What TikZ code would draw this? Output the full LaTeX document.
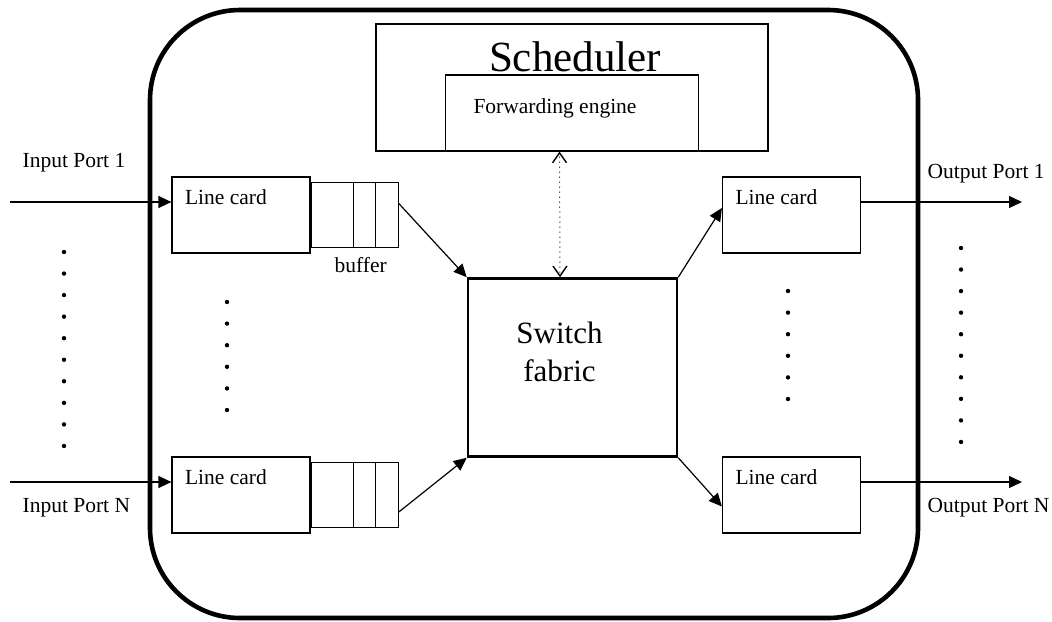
\documentclass[tikz,border=0pt]{standalone}
\usepackage{fontspec}
\setmainfont{Liberation Serif}
\usetikzlibrary{positioning,arrows.meta}
\tikzset{
	box/.style={
		draw, inner sep=0pt, line width=0.6pt
	},
	card/.style={
		box, minimum width=69pt, minimum height=38pt,
		label={[anchor=base west, inner sep=0pt, xshift=6.5pt, yshift=-14pt]north west:Line card}
	},
	queue/.style={
		box, minimum width=43.5pt, minimum height=32.5pt
	},
	dotV/.style={
		fill, circle, inner sep=0pt, minimum size=2.2pt
	},
	porttext/.style={
		anchor=base west, inner sep=0pt
	},
	barb/.style={
		{Straight Barb[length=5pt,width=7pt]}-{Straight Barb[length=5pt,width=7pt]}
	},
	>={Triangle[length=6.5pt,width=6pt]},
}

\begin{document}
\begin{tikzpicture}[
x=0.5pt, y=-0.5pt, line width=0.6pt,
font=\fontsize{10.75}{13}\selectfont
]
\useasboundingbox (0,0) rectangle (1052,621);
% router chassis
\node [draw, line width=2.3pt, rounded corners=45pt,
	minimum width=384pt, minimum height=304pt] (router) at (534,314) {};
% scheduler and forwarding engine
\node [box, minimum width=196pt, minimum height=63.5pt] (sched) at (572,87.5) {};
\node [box, minimum width=126.5pt, minimum height=38pt, anchor=south] (fwd) at (sched.south) {};
\node [porttext, font=\fontsize{21.5}{26}\selectfont]
	(schedtext) at ([xshift=56.5pt,yshift=-24pt]sched.north west) {Scheduler};
\node [porttext] (fwdtext) at ([xshift=14pt,yshift=-19.5pt]fwd.north west) {Forwarding engine};
% switch fabric
\node [box, line width=1.3pt, minimum width=104.5pt, minimum height=89pt] (sw) at (572.5,367.5) {};
\node [anchor=north, inner sep=0pt, align=center, font=\fontsize{15.5}{19}\selectfont]
	(swtext) at (559.5,321) {Switch\\fabric};
% line cards with their buffers
\node [card] (lc1) at (241,215) {};
\node [queue, right=0pt of lc1,
	label={[label distance=1pt, xshift=3pt]below:buffer}] (b1) {};
\node [card] (lcN) at (241,495) {};
\node [queue, right=0pt of lcN] (bN) {};
\node [card] (rc1) at (791.5,215) {};
\node [card] (rcN) at (791.5,495) {};
\foreach \b in {b1,bN}
	\foreach \dx in {21.5pt,32.5pt}
		\draw ([xshift=\dx]\b.north west) -- ([xshift=\dx]\b.south west);
% ports
\coordinate (in1) at (10,202);
\coordinate (inN) at (10,482);
\coordinate (out1) at (1022,202);
\coordinate (outN) at (1022,482);
\node [porttext] (in1text) at (22,167) {Input Port 1};
\node [porttext] (inNtext) at (22,512) {Input Port N};
\node [porttext] (out1text) at (927,178) {Output Port 1};
\node [porttext] (outNtext) at (927,512) {Output Port N};
\draw [->] (in1) -- (in1 -| lc1.west);
\draw [->] (inN) -- (inN -| lcN.west);
\draw [->] (out1 -| rc1.east) -- (out1);
\draw [->] (outN -| rcN.east) -- (outN);
% through the fabric
\draw [->] ([yshift=5.75pt]b1.east) -- (sw.north west);
\draw [->] ([yshift=-8.5pt]bN.east) -- (sw.south west);
\draw [->] (sw.north east) -- ([yshift=3.5pt]rc1.west);
\draw [->] (sw.south east) -- ([yshift=-5.75pt]rcN.west);
% control link, dotted line with solid tips
\coordinate (ctlA) at ([xshift=-6.25pt]fwd.south);
\coordinate (ctlB) at ([xshift=-6.25pt]sw.north);
\draw [dotted, line width=0.5pt] (ctlA) -- (ctlB);
\path [line width=0.7pt, tips, barb] (ctlA) -- (ctlB);
% dots between the ports
\foreach \i in {0,...,9} {
	\node [dotV] (dl\i) at (64,252+21.55*\i) {};
	\node [dotV] (dr\i) at (961,248+21.55*\i) {};
}
\foreach \i in {0,...,5} {
	\node [dotV] (dml\i) at (227,302+21.6*\i) {};
	\node [dotV] (dmr\i) at (788,291+21.6*\i) {};
}
\end{tikzpicture}
\end{document}
